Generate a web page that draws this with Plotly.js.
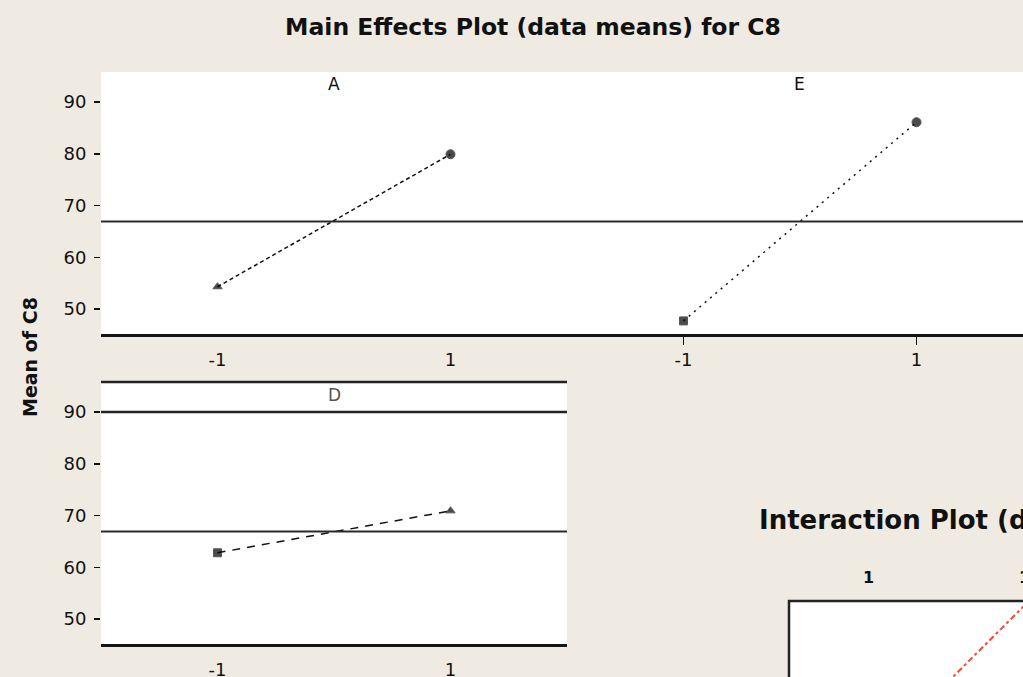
<!DOCTYPE html>
<html>
<head>
<meta charset="utf-8">
<script src="https://cdn.plot.ly/plotly-3.0.1.min.js"></script>
<style>html,body{margin:0;padding:0;background:#EFEBE2;overflow:hidden}</style>
</head>
<body>
<div id="chart" style="width:1023px;height:677px"></div>
<script>
// ---- data ----
const levels = [-1, 1];
const xTickLabels = ['-1', '1'];
const meanA = [54.3, 79.9];
const meanE = [47.7, 86.1];
const meanD = [62.8, 70.9];
const grandMean = 66.9;
const yTicks = [50, 60, 70, 80, 90];
const panelNames = ['A', 'E', 'D'];
const interactionLevels = [-1, 1];
const interactionMeans = [45, 90];

// ---- layout helpers (pixel -> paper) ----
const W = 1023, H = 677;
const px = v => v / W;
const py = v => 1 - v / H;
const BG = '#EFEBE2';
const FONT = 'DejaVu Sans';
const yRange = [45.17, 95.8];

const tickFont = {family: FONT, size: 18, color: '#111'};

const traces = [
  {x: levels, y: meanA, xaxis: 'x', yaxis: 'y', mode: 'lines+markers',
   line: {color: '#111', width: 1.5, dash: '4px,3px'},
   marker: {color: '#000', size: [8, 9], symbol: ['triangle-up', 'circle']}},
  {x: levels, y: meanE, xaxis: 'x2', yaxis: 'y2', mode: 'lines+markers',
   line: {color: '#111', width: 1.5, dash: '2px,5px'},
   marker: {color: '#000', size: [8, 9], symbol: ['square', 'circle']}},
  {x: levels, y: meanD, xaxis: 'x3', yaxis: 'y3', mode: 'lines+markers',
   line: {color: '#111', width: 1.5, dash: '8px,7px'},
   marker: {color: '#000', size: [8, 8], symbol: ['square', 'triangle-up']}},
  {x: interactionLevels, y: interactionMeans, xaxis: 'x4', yaxis: 'y4', mode: 'lines',
   line: {color: '#F24A3A', width: 2, dash: '3px,3px,6px,3px'}}
];

function xAx(domain, range, showTicks) {
  return {domain: domain, range: range, fixedrange: true, tickmode: 'array',
    tickvals: levels, ticktext: xTickLabels, ticks: 'outside', ticklen: 8,
    tickwidth: 1.5, tickcolor: showTicks ? '#111' : 'rgba(0,0,0,0)',
    tickfont: tickFont, showgrid: false, zeroline: false, showline: true,
    linecolor: '#151515', linewidth: 2.5, automargin: false};
}
function yAx(domain, anchor, visibleTicks) {
  return {domain: domain, range: yRange, anchor: anchor, fixedrange: true,
    tickmode: 'array', tickvals: yTicks, ticks: visibleTicks ? 'outside' : '',
    ticklen: 6, tickwidth: 1.5, tickcolor: '#111', showticklabels: visibleTicks,
    tickfont: tickFont, showgrid: false, zeroline: false, showline: false,
    automargin: false, ticklabelstandoff: 4};
}

const xa = xAx([px(101), px(567)], [-2, 2], false); xa.anchor = 'y';
const xe = xAx([px(567), 1], [-2, 1.914], true); xe.anchor = 'y2';
const xd = xAx([px(101), px(567)], [-2, 2], false); xd.anchor = 'y3';

const meanLine = (xr, yr) => ({type: 'line', xref: xr + ' domain', yref: yr,
  x0: 0, x1: 1, y0: grandMean, y1: grandMean, line: {color: '#2a2a2a', width: 2}});

const layout = {
  width: W, height: H, margin: {l: 0, r: 0, t: 0, b: 0, pad: 0},
  paper_bgcolor: BG, plot_bgcolor: '#FFFFFF', showlegend: false,
  title: {text: 'Main Effects Plot (data means) for C8', x: px(533), y: py(27),
    xanchor: 'center', yanchor: 'middle', xref: 'paper', yref: 'paper',
    font: {family: FONT, size: 23.5, weight: 'bold', color: '#111'}},
  xaxis: xa,
  yaxis: yAx([py(334), py(72)], 'x', true),
  xaxis2: xe,
  yaxis2: yAx([py(334), py(72)], 'x2', false),
  xaxis3: xd,
  yaxis3: yAx([py(644), py(382)], 'x3', true),
  xaxis4: {domain: [px(789), 1], range: [-1.5, 0.509], anchor: 'y4', visible: false, fixedrange: true},
  yaxis4: {domain: [0, py(601)], range: [65.4, 80.1], anchor: 'x4', visible: false, fixedrange: true},
  shapes: [
    meanLine('x', 'y'), meanLine('x2', 'y2'), meanLine('x3', 'y3'),
    {type: 'line', xref: 'x3 domain', yref: 'y3', x0: 0, x1: 1, y0: 90, y1: 90,
     line: {color: '#222', width: 2.5}},
    {type: 'line', xref: 'x3 domain', yref: 'y3 domain', x0: 0, x1: 1, y0: 1, y1: 1,
     line: {color: '#222', width: 2.5}},
    {type: 'rect', xref: 'paper', yref: 'paper', x0: px(789), x1: 1.2, y0: -0.2, y1: py(601),
     line: {color: '#222', width: 2.5}, fillcolor: 'rgba(0,0,0,0)', layer: 'above'}
  ],
  annotations: [
    {text: panelNames[0], xref: 'paper', yref: 'paper', x: px(334), y: py(84), showarrow: false,
     xanchor: 'center', yanchor: 'middle', font: {family: FONT, size: 17, color: '#111'}},
    {text: panelNames[1], xref: 'paper', yref: 'paper', x: px(799), y: py(84), showarrow: false,
     xanchor: 'center', yanchor: 'middle', font: {family: FONT, size: 17, color: '#111'}},
    {text: panelNames[2], xref: 'paper', yref: 'paper', x: px(334), y: py(395), showarrow: false,
     xanchor: 'center', yanchor: 'middle', font: {family: FONT, size: 17, color: '#555'}},
    {text: 'Mean of C8', xref: 'paper', yref: 'paper', x: px(30), y: py(357), showarrow: false,
     textangle: -90, xanchor: 'center', yanchor: 'middle',
     font: {family: FONT, size: 19, weight: 'bold', color: '#111'}},
    {text: 'Interaction Plot (data means) for C8', xref: 'paper', yref: 'paper', x: px(757), y: py(520),
     showarrow: false, xanchor: 'left', yanchor: 'middle',
     font: {family: FONT, size: 26, weight: 'bold', color: '#111'}},
    {text: '1', xref: 'paper', yref: 'paper', x: px(868), y: py(577), showarrow: false,
     xanchor: 'center', yanchor: 'middle', font: {family: FONT, size: 16, weight: 'bold', color: '#111'}},
    {text: '1', xref: 'paper', yref: 'paper', x: px(1024), y: py(577), showarrow: false,
     xanchor: 'center', yanchor: 'middle', font: {family: FONT, size: 16, weight: 'bold', color: '#111'}}
  ]
};

Plotly.newPlot('chart', traces, layout, {staticPlot: true, displayModeBar: false});
</script>
</body>
</html>
